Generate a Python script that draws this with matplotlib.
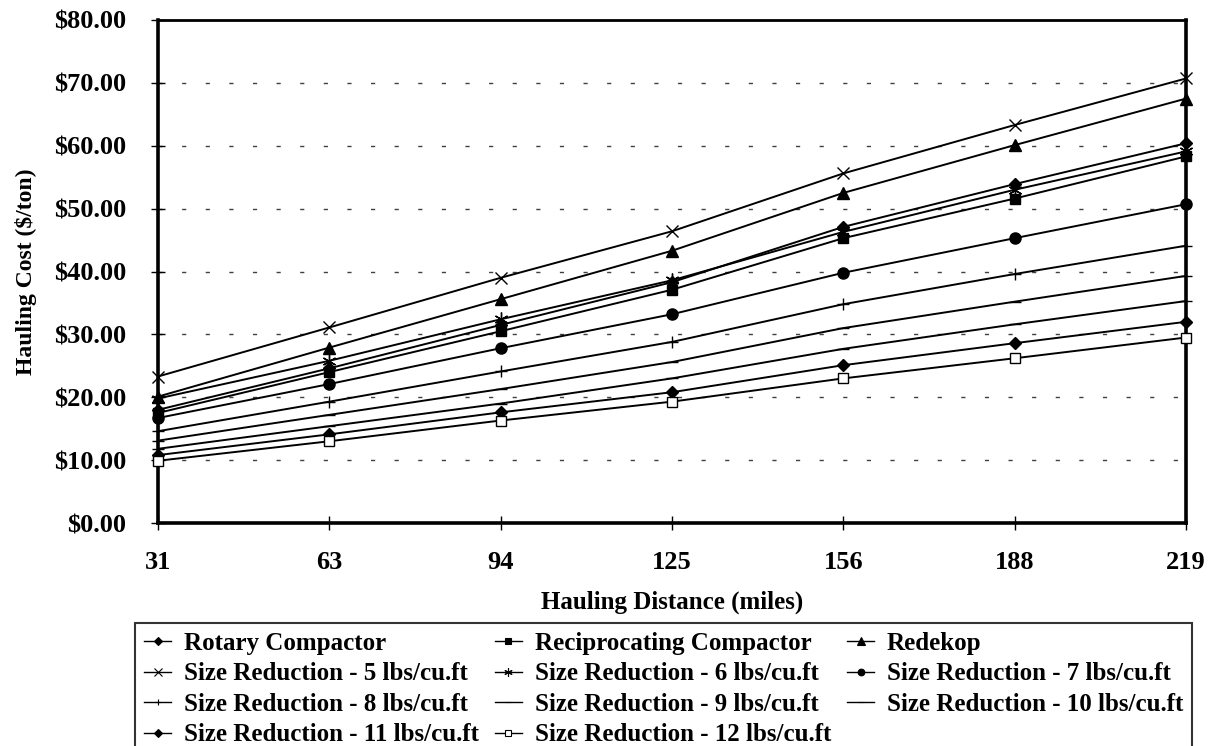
import matplotlib
matplotlib.use("Agg")
import matplotlib.pyplot as plt
from matplotlib.lines import Line2D

distances = ["31", "63", "94", "125", "156", "188", "219"]

rotary = [18.0, 24.6, 31.5, 38.3, 47.1, 53.9, 60.4]
reciprocating = [17.5, 24.0, 30.5, 37.1, 45.3, 51.6, 58.3]
redekop = [20.1, 27.9, 35.6, 43.3, 52.5, 60.1, 67.5]
sr5 = [23.3, 31.1, 39.0, 46.4, 55.6, 63.3, 70.7]
sr6 = [19.8, 25.8, 32.4, 38.6, 46.3, 53.0, 59.1]
sr7 = [16.7, 22.1, 27.8, 33.2, 39.8, 45.3, 50.7]
sr8 = [14.6, 19.3, 24.1, 28.8, 34.8, 39.6, 44.1]
sr9 = [13.1, 17.2, 21.3, 25.6, 31.0, 35.2, 39.3]
sr10 = [11.8, 15.4, 19.0, 23.0, 27.7, 31.6, 35.3]
sr11 = [10.8, 14.1, 17.6, 20.8, 25.1, 28.6, 32.0]
sr12 = [9.9, 13.0, 16.3, 19.3, 23.0, 26.2, 29.5]

labels = ["Rotary Compactor", "Reciprocating Compactor", "Redekop",
          "Size Reduction - 5 lbs/cu.ft", "Size Reduction - 6 lbs/cu.ft",
          "Size Reduction - 7 lbs/cu.ft", "Size Reduction - 8 lbs/cu.ft",
          "Size Reduction - 9 lbs/cu.ft", "Size Reduction - 10 lbs/cu.ft",
          "Size Reduction - 11 lbs/cu.ft", "Size Reduction - 12 lbs/cu.ft"]
series = [rotary, reciprocating, redekop, sr5, sr6, sr7, sr8, sr9, sr10, sr11, sr12]

yticks = [0, 10, 20, 30, 40, 50, 60, 70, 80]
ytick_labels = ["$0.00", "$10.00", "$20.00", "$30.00", "$40.00",
                "$50.00", "$60.00", "$70.00", "$80.00"]

# marker, size, facecolor
styles = [("D", 6, "black"), ("s", 7, "black"), ("^", 9, "black"),
          ("x", 9, "black"), ((6, 2, 0), 10, "black"), ("o", 8, "black"),
          ("+", 8, "black"), ("_", 8, "black"), ("_", 8, "black"),
          ("D", 6, "black"), ("s", 7, "white")]

plt.rcParams["font.family"] = ["Liberation Serif", "DejaVu Serif"]
plt.rcParams["font.weight"] = "bold"

fig = plt.figure(figsize=(12.23, 7.46), dpi=100)
ax = fig.add_axes([158 / 1223, 1 - 523 / 746, (1186 - 158) / 1223, (523 - 20) / 746])

for vals, (m, ms, fc) in zip(series, styles):
    ax.plot(distances, vals, color="black", lw=1.4, marker=m, markersize=ms,
            markerfacecolor=fc, markeredgecolor="black", markeredgewidth=1.0,
            clip_on=False, zorder=3)

ax.set_xlim(0, len(distances) - 1)
ax.set_ylim(0, 80)
ax.set_yticks(yticks)
ax.set_yticklabels(ytick_labels)
for y in yticks[1:-1]:
    ax.axhline(y, color="0.25", lw=1.0, linestyle=(0, (3, 14)), zorder=1)

for side in ["left", "bottom", "right"]:
    ax.spines[side].set_linewidth(2.6)
ax.spines["top"].set_linewidth(2.0)

ax.tick_params(axis="y", direction="inout", length=10, width=1.0, pad=18,
               labelsize=19)
ax.tick_params(axis="x", direction="inout", length=10, width=1.0, pad=15,
               labelsize=19)
for t in ax.get_xticklabels() + ax.get_yticklabels():
    t.set_fontweight("bold")

ax.set_xlabel("Hauling Distance (miles)", fontsize=18, fontweight="bold", labelpad=12)
ax.set_ylabel("Hauling Cost ($/ton)", fontsize=17, fontweight="bold")
ax.yaxis.set_label_coords(-0.118, 0.5)

handles = []
for (m, ms, fc) in styles:
    handles.append(Line2D([], [], color="black", lw=1.0, marker=m,
                          markersize=max(ms * 0.6, 4), markerfacecolor=fc,
                          markeredgecolor="black", markeredgewidth=0.8))

order = [0, 3, 6, 9, 1, 4, 7, 10, 2, 5, 8]
leg = fig.legend([handles[i] for i in order], [labels[i] for i in order],
                 ncol=3, loc="upper left",
                 bbox_to_anchor=(135 / 1223, 1 - 623 / 746, (1192 - 135) / 1223, 0.0),
                 mode="expand", frameon=True, fancybox=False,
                 edgecolor="black", borderpad=0.35, labelspacing=0.3,
                 handlelength=1.1, handletextpad=0.5, borderaxespad=0.0,
                 columnspacing=0.4, prop={"weight": "bold", "size": 18})
leg.get_frame().set_linewidth(1.5)

fig.savefig("out.png", dpi=100)
